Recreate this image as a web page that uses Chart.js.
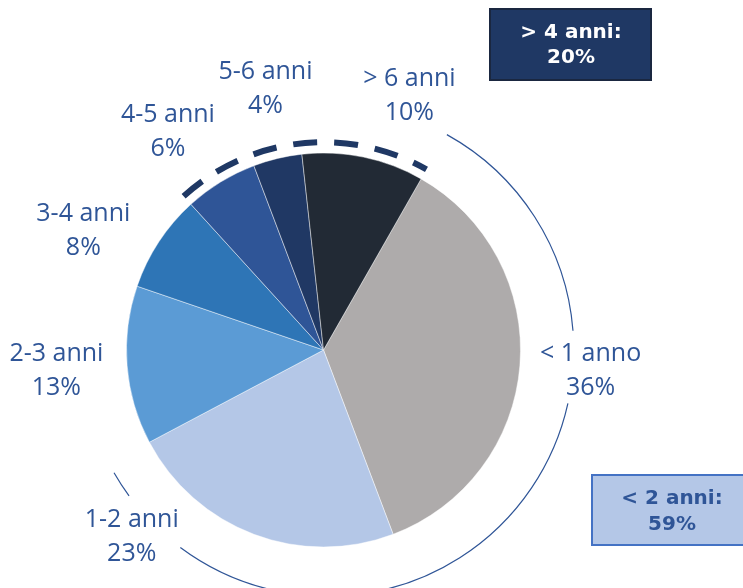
<!DOCTYPE html>
<html>
<head>
<meta charset="utf-8">
<script src="https://cdn.jsdelivr.net/npm/chart.js@4.4.1/dist/chart.umd.min.js"></script>
<style>
  html, body { margin: 0; padding: 0; background: #fff; }
  #wrap { width: 743px; height: 588px; }
</style>
</head>
<body>
<div id="wrap"><canvas id="grafico_torta" width="743" height="588"></canvas></div>
<script>
// dati
var categorie = ['< 1 anno', '1-2 anni', '2-3 anni', '3-4 anni', '4-5 anni', '5-6 anni', '> 6 anni'];
var valori = [36, 23, 13, 8, 6, 4, 10];
var colori = ['#aeabab', '#b4c7e7', '#5b9bd5', '#2e75b6', '#2f5597', '#203864', '#222a35'];

// spostamento angolare delle etichette (gradi) rispetto al centro della fetta
var spostaEtichetta = [0, 25, 0, -7, -4, 1, 7];

var blu = '#2f5597';

function sommaValori(da, a) {
  var s = 0;
  for (var i = da; i <= a; i++) s += valori[i];
  return s;
}

var decorazioni = {
  id: 'decorazioni',
  afterDraw: function (chart) {
    var ctx = chart.ctx;
    var arcs = chart.getDatasetMeta(0).data;
    var cx = arcs[0].x, cy = arcs[0].y, R = arcs[0].outerRadius;
    var rad = Math.PI / 180;
    ctx.save();

    // arco tratteggiato sopra le fette > 4 anni
    ctx.beginPath();
    ctx.strokeStyle = '#1f3864';
    ctx.lineWidth = 6;
    ctx.setLineDash([24, 17]);
    ctx.arc(cx, cy, R * 1.055, arcs[4].startAngle, arcs[6].endAngle);
    ctx.stroke();
    ctx.setLineDash([]);

    // arco sottile attorno alle fette < 2 anni, interrotto vicino alle etichette
    var rr = R * 1.25, ox = cx + 4;
    var a0 = arcs[0].startAngle - 0.7 * rad, a1 = arcs[1].endAngle - 2 * rad;
    var gaps = [];
    [0, 1].forEach(function (i) {
      var m = (arcs[i].startAngle + arcs[i].endAngle) / 2 + spostaEtichetta[i] * rad;
      gaps.push([m - 9 * rad, m + 8 * rad]);
    });
    ctx.strokeStyle = blu;
    ctx.lineWidth = 1.2;
    var s = a0;
    gaps.forEach(function (g) {
      ctx.beginPath(); ctx.arc(ox, cy, rr, s, g[0]); ctx.stroke();
      s = g[1];
    });
    ctx.beginPath(); ctx.arc(ox, cy, rr, s, a1); ctx.stroke();

    // etichette
    ctx.fillStyle = blu;
    ctx.font = '25px "Open Sans"';
    ctx.textAlign = 'center';
    ctx.textBaseline = 'middle';
    var tot = sommaValori(0, valori.length - 1);
    arcs.forEach(function (a, i) {
      var m = (a.startAngle + a.endAngle) / 2 + spostaEtichetta[i] * rad;
      var x = cx + Math.cos(m) * R * 1.36;
      var y = cy + Math.sin(m) * R * 1.36;
      ctx.fillText(categorie[i], x, y - 17);
      ctx.fillText(Math.round(valori[i] / tot * 100) + '%', x, y + 17);
    });

    // riquadri riassuntivi
    ctx.font = 'bold 20px "DejaVu Sans"';
    ctx.fillStyle = '#1f3864';
    ctx.strokeStyle = '#1a2740';
    ctx.lineWidth = 2;
    ctx.fillRect(490, 9, 161, 71);
    ctx.strokeRect(490, 9, 161, 71);
    ctx.fillStyle = '#ffffff';
    ctx.fillText('> 4 anni:', 571, 33);
    ctx.fillText(sommaValori(4, 6) + '%', 571, 58);

    ctx.fillStyle = '#b4c7e7';
    ctx.strokeStyle = '#4472c4';
    ctx.fillRect(592, 475, 160, 70);
    ctx.strokeRect(592, 475, 160, 70);
    ctx.fillStyle = blu;
    ctx.fillText('< 2 anni:', 672, 499);
    ctx.fillText(sommaValori(0, 1) + '%', 672, 525);

    ctx.restore();
  }
};

var ctx = document.getElementById('grafico_torta').getContext('2d');
var torta = new Chart(ctx, {
  type: 'pie',
  data: {
    labels: categorie,
    datasets: [{
      data: valori,
      backgroundColor: colori,
      borderColor: 'rgba(255,255,255,0.45)',
      borderWidth: 1
    }]
  },
  options: {
    responsive: false,
    animation: false,
    rotation: 29.7,
    layout: { padding: { left: 126, right: 222, top: 152, bottom: 40 } },
    plugins: {
      legend: { display: false },
      tooltip: { enabled: false }
    }
  },
  plugins: [decorazioni]
});
</script>
</body>
</html>
